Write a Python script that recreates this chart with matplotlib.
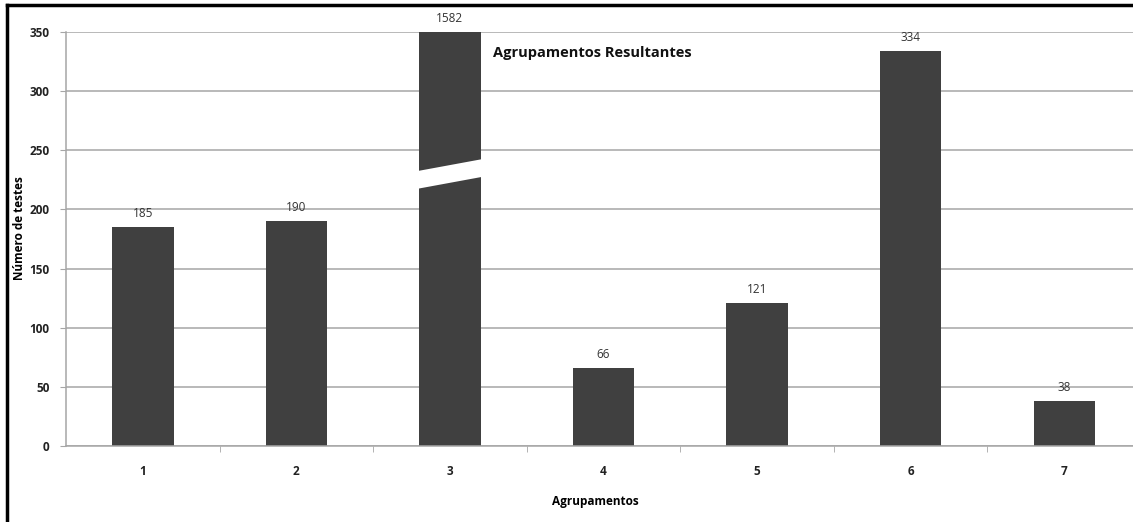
import matplotlib
matplotlib.use("Agg")
import matplotlib.pyplot as plt
from matplotlib.lines import Line2D

# Test counts per resulting cluster
groups = ["1", "2", "3", "4", "5", "6", "7"]
counts = [185, 190, 1582, 66, 121, 334, 38]
y_ticks = [0, 50, 100, 150, 200, 250, 300, 350]
y_max = 350
# slanted break drawn across the off-scale bar (lower edge, upper edge at left/right)
break_low = (217, 228)
break_high = (232, 243)

plt.rcParams["font.family"] = ["Open Sans", "DejaVu Sans"]
BAR = "#404040"
GRID = "#a6a6a6"

W, H = 1133, 522
fig = plt.figure(figsize=(W / 100, H / 100), dpi=100)
ax = fig.add_axes([66 / W, 76 / H, 1075 / W, 414 / H])

x = list(range(len(groups)))
ax.bar(x, counts, width=0.40, color=BAR, zorder=2)
ax.set_xlim(-0.5, len(groups) - 0.5)
ax.set_ylim(0, y_max)

# white slanted gap marking the broken bar
bi = counts.index(max(counts))
xl, xr = bi - 0.23, bi + 0.23
ax.fill([xl, xr, xr, xl], [break_low[0], break_low[1], break_high[1], break_high[0]],
        color="white", zorder=3, lw=0)

for xi, v in zip(x, counts):
    ax.text(xi, min(v, y_max) + 6, str(v), ha="center", va="bottom",
            fontsize=8.5, color="#333333", zorder=4, clip_on=False)

ax.set_yticks(y_ticks)
ax.yaxis.grid(True, color=GRID, lw=1.1, zorder=1)
ax.set_axisbelow(True)
ax.set_xticks(x)
ax.set_xticklabels(groups, fontweight="bold", fontsize=8.5, color="#222222")
ax.set_xticks([i + 0.5 for i in x[:-1]], minor=True)
ax.tick_params(axis="x", which="major", length=0, pad=14)
ax.tick_params(axis="x", which="minor", length=4, color=GRID, direction="out")
ax.tick_params(axis="y", length=4, color=GRID, pad=8, labelsize=8.5,
               labelcolor="#222222")
for lab in ax.get_yticklabels():
    lab.set_fontweight("bold")

for s in ["top", "right"]:
    ax.spines[s].set_visible(False)
for s in ["left", "bottom"]:
    ax.spines[s].set_color(GRID)
    ax.spines[s].set_linewidth(1.1)

ax.set_xlabel("Agrupamentos", fontweight="bold", fontsize=8.5, va="center")
ax.xaxis.set_label_coords(595 / W, 1 - 502 / H, transform=fig.transFigure)
ax.set_ylabel("Número de testes", fontweight="bold", fontsize=8.5, va="center")
ax.yaxis.set_label_coords(20 / W, 1 - 228 / H, transform=fig.transFigure)

fig.text(493 / W, 1 - 53 / H, "Agrupamentos Resultantes", fontweight="bold",
         fontsize=10.5, va="center", ha="left", color="#111111")

# frame edges (left and top)
fig.add_artist(Line2D([7 / W, 7 / W], [0, 1 - 5 / H], color="black", lw=2.5,
                      transform=fig.transFigure))
fig.add_artist(Line2D([7 / W, 1], [1 - 5 / H, 1 - 5 / H], color="black", lw=2.5,
                      transform=fig.transFigure))

fig.savefig("out.png", dpi=100)
